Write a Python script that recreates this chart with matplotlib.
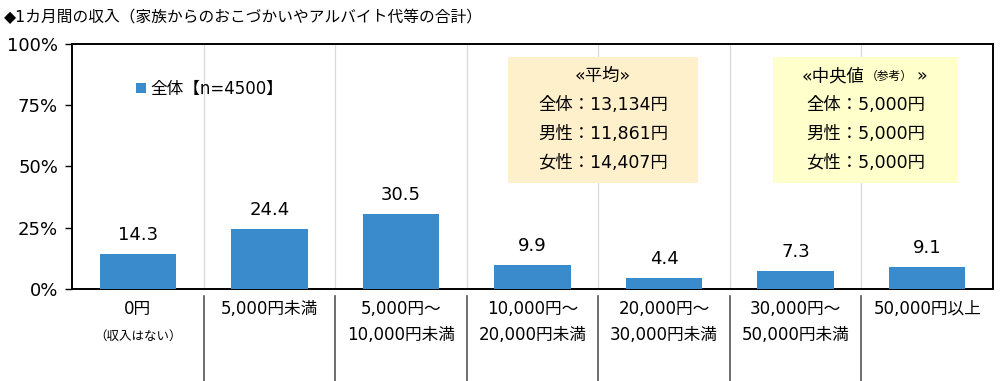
import matplotlib.pyplot as plt
from matplotlib.patches import Rectangle
from matplotlib.lines import Line2D

# Latin glyphs from DejaVu (close to Verdana/Meiryo), CJK falls back to Noto
plt.rcParams['font.family'] = ['DejaVu Sans', 'Noto Sans CJK JP']

title = "◆1カ月間の収入（家族からのおこづかいやアルバイト代等の合計）"
categories = ["0円", "5,000円未満", "5,000円～\n10,000円未満", "10,000円～\n20,000円未満",
              "20,000円～\n30,000円未満", "30,000円～\n50,000円未満", "50,000円以上"]
values = [14.3, 24.4, 30.5, 9.9, 4.4, 7.3, 9.1]
legend_label = "全体【n=4500】"
avg_lines = ["«平均»", "全体：13,134円", "男性：11,861円", "女性：14,407円"]
med_lines = ["全体：5,000円", "男性：5,000円", "女性：5,000円"]

bar_color = "#3A8BCB"

fig = plt.figure(figsize=(10, 3.81), dpi=100)
ax = fig.add_axes([0.072, 0.2415, 0.921, 0.643])

x = list(range(len(values)))
ax.bar(x, values, width=0.58, color=bar_color, label=legend_label, zorder=3)
for xi, v in zip(x, values):
    ax.text(xi, v + 4, f"{v:.1f}", ha="center", va="bottom", fontsize=13)

ax.set_xlim(-0.5, len(values) - 0.5)
ax.set_ylim(0, 100)
ax.set_yticks([0, 25, 50, 75, 100])
ax.set_yticklabels(["0%", "25%", "50%", "75%", "100%"], fontsize=13)
ax.set_xticks([])
ax.tick_params(axis="y", length=5, width=1, direction="out", pad=5)
for s in ax.spines.values():
    s.set_linewidth(1.4)

# category separators
for b in range(1, len(values)):
    ax.axvline(b - 0.5, color="#D9D9D9", lw=0.9, zorder=1)
    ax.add_line(Line2D([b - 0.5, b - 0.5], [-3, -38], color="#555555", lw=1.2,
                       clip_on=False))

# category labels
for xi, lab in zip(x, categories):
    ax.text(xi, -4.5, lab, ha="center", va="top", fontsize=12, linespacing=1.6)
ax.text(0, -16.5, "（収入はない）", ha="center", va="top", fontsize=9)

# legend
ax.legend(loc="upper left", bbox_to_anchor=(0.062, 0.88), frameon=False, fontsize=12,
          handlelength=0.6, handleheight=0.6, handletextpad=0.3, borderaxespad=0)

# summary boxes
ax.add_patch(Rectangle((2.814, 43.3), 1.444, 51.4, facecolor="#FFF0CC", edgecolor="none", zorder=2))
ax.add_patch(Rectangle((4.828, 43.3), 1.406, 51.4, facecolor="#FFFFCC", edgecolor="none", zorder=2))
ys = [86.9, 75.1, 63.3, 51.4]
for yy, t in zip(ys, avg_lines):
    ax.text(3.536, yy, t, ha="center", va="center", fontsize=12.5, zorder=4)
ax.text(5.048, ys[0], "«中央値", ha="left", va="center", fontsize=12.5, zorder=4)
ax.text(5.53, ys[0], "（参考）", ha="left", va="center", fontsize=8.5, zorder=4)
ax.text(5.92, ys[0], "»", ha="left", va="center", fontsize=12.5, zorder=4)
for yy, t in zip(ys[1:], med_lines):
    ax.text(5.531, yy, t, ha="center", va="center", fontsize=12.5, zorder=4)

fig.text(0.004, 0.975, title, ha="left", va="top", fontsize=11.3)

fig.savefig("out.png", dpi=100)
